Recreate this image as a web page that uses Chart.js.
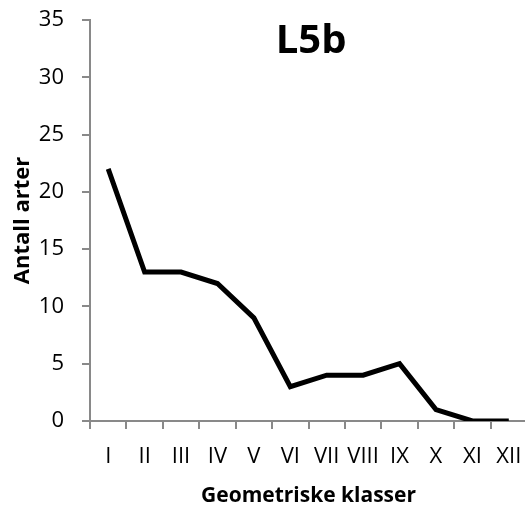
<!DOCTYPE html>
<html>
<head>
<meta charset="utf-8">
<script src="https://cdn.jsdelivr.net/npm/chart.js@4"></script>
<style>
  html, body { margin: 0; padding: 0; overflow: hidden; background: #fff; }
</style>
</head>
<body>
<canvas id="chart" width="530" height="509"></canvas>
<script>
// klasser og antall arter
var klasser = ['I', 'II', 'III', 'IV', 'V', 'VI', 'VII', 'VIII', 'IX', 'X', 'XI', 'XII'];
var antallArter = [22, 13, 13, 12, 9, 3, 4, 4, 5, 1, 0, 0];
var yTicks = [0, 5, 10, 15, 20, 25, 30, 35];
var tittel = 'L5b';

var axisColor = '#898989';
var fontName = '"Open Sans", "Liberation Sans", sans-serif';

// tittel inne i plottet
var tittelPlugin = {
    id: 'tittelPlugin',
    afterDraw: function(chart) {
        var ctx = chart.ctx;
        var area = chart.chartArea;
        ctx.save();
        ctx.font = 'bold 40px ' + fontName;
        ctx.fillStyle = '#000';
        ctx.textAlign = 'center';
        ctx.textBaseline = 'middle';
        ctx.fillText(tittel, area.left + (area.right - area.left) * 0.506, area.top + 22);
        ctx.restore();
    }
};

var ctx = document.getElementById('chart').getContext('2d');
var myChart = new Chart(ctx, {
    type: 'line',
    data: {
        labels: klasser,
        datasets: [{
            data: antallArter,
            borderColor: '#000',
            borderWidth: 5,
            pointRadius: 0,
            tension: 0,
            fill: false
        }]
    },
    options: {
        responsive: false,
        animation: false,
        layout: {
            padding: { top: 20, right: 3, bottom: 0, left: 0 }
        },
        plugins: {
            legend: { display: false },
            tooltip: { enabled: false }
        },
        scales: {
            x: {
                type: 'category',
                offset: true,
                grid: {
                    offset: true,
                    drawOnChartArea: false,
                    drawTicks: true,
                    tickLength: 8,
                    color: axisColor,
                    lineWidth: 2
                },
                border: { color: axisColor, width: 2 },
                ticks: {
                    color: '#000',
                    font: { family: fontName, size: 22 },
                    padding: 15,
                    maxRotation: 0,
                    minRotation: 0,
                    autoSkip: false
                },
                title: {
                    display: true,
                    text: 'Geometriske klasser',
                    color: '#000',
                    font: { family: fontName, size: 21, weight: 'bold' },
                    padding: { top: 0, bottom: 0 }
                },
                afterFit: function(scale) {
                    scale.height = 88;
                    scale.paddingLeft = 0;
                    scale.paddingRight = 0;
                }
            },
            y: {
                min: 0,
                max: 35,
                afterBuildTicks: function(scale) {
                    scale.ticks = yTicks.map(function(v) { return { value: v }; });
                },
                grid: {
                    drawOnChartArea: false,
                    drawTicks: true,
                    tickLength: 8,
                    color: axisColor,
                    lineWidth: 2
                },
                border: { color: axisColor, width: 2 },
                ticks: {
                    color: '#000',
                    font: { family: fontName, size: 22 },
                    padding: 18
                },
                title: {
                    display: true,
                    text: 'Antall arter',
                    color: '#000',
                    font: { family: fontName, size: 22, weight: 'bold' },
                    padding: { top: 10, bottom: 0 }
                },
                afterFit: function(scale) {
                    scale.width = 90;
                    scale.paddingTop = 0;
                    scale.paddingBottom = 0;
                }
            }
        }
    },
    plugins: [tittelPlugin]
});
</script>
</body>
</html>
